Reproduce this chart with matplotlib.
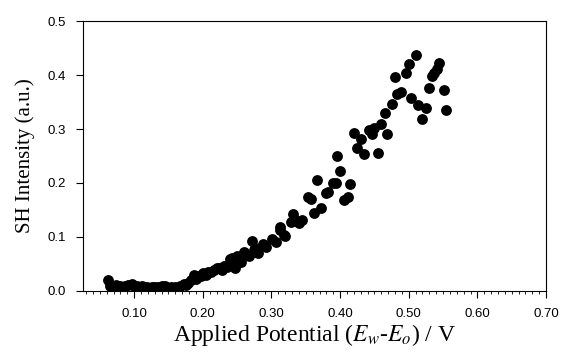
import numpy as np
import matplotlib.pyplot as plt
from matplotlib.ticker import MultipleLocator, FormatStrFormatter

plt.rcParams['mathtext.fontset'] = 'stix'

# applied potential (V) and SH intensity (a.u.)
potential = [0.0625, 0.065, 0.069, 0.074, 0.080, 0.084, 0.087, 0.091, 0.097, 0.100,
             0.104, 0.107, 0.111, 0.115, 0.119, 0.122, 0.126, 0.129, 0.133, 0.137,
             0.140, 0.145, 0.148, 0.153, 0.157, 0.160, 0.164, 0.167, 0.172, 0.176,
             0.179, 0.183, 0.187, 0.190, 0.194, 0.198, 0.201, 0.205, 0.208, 0.212,
             0.216, 0.220, 0.223, 0.228, 0.231, 0.235, 0.240, 0.243, 0.245, 0.247,
             0.250, 0.252, 0.255, 0.260, 0.262, 0.267, 0.272, 0.274, 0.276, 0.278,
             0.281, 0.288, 0.292, 0.301, 0.306, 0.312, 0.313, 0.318, 0.320, 0.328,
             0.332, 0.335, 0.340, 0.345, 0.353, 0.357, 0.362, 0.372, 0.367, 0.379,
             0.382, 0.389, 0.394, 0.395, 0.400, 0.406, 0.411, 0.414, 0.420, 0.424,
             0.430, 0.435, 0.442, 0.447, 0.450, 0.455, 0.460, 0.465, 0.469, 0.475,
             0.480, 0.483, 0.489, 0.496, 0.500, 0.504, 0.510, 0.514, 0.520, 0.525,
             0.530, 0.534, 0.537, 0.541, 0.544, 0.551, 0.555]
intensity = [0.020, 0.010, 0.008, 0.012, 0.010, 0.008, 0.010, 0.012, 0.013, 0.009,
             0.010, 0.008, 0.010, 0.007, 0.007, 0.006, 0.007, 0.008, 0.007, 0.006,
             0.009, 0.010, 0.006, 0.007, 0.005, 0.007, 0.006, 0.010, 0.013, 0.012,
             0.014, 0.020, 0.030, 0.022, 0.027, 0.028, 0.033, 0.030, 0.036, 0.036,
             0.038, 0.042, 0.043, 0.039, 0.046, 0.045, 0.060, 0.061, 0.051, 0.042,
             0.064, 0.054, 0.054, 0.073, 0.067, 0.065, 0.093, 0.076, 0.079, 0.073,
             0.070, 0.087, 0.082, 0.097, 0.090, 0.119, 0.113, 0.104, 0.101, 0.127,
             0.143, 0.132, 0.125, 0.131, 0.174, 0.171, 0.145, 0.154, 0.206, 0.182,
             0.183, 0.200, 0.200, 0.250, 0.222, 0.169, 0.174, 0.199, 0.293, 0.264,
             0.281, 0.254, 0.299, 0.290, 0.301, 0.255, 0.309, 0.329, 0.291, 0.346,
             0.397, 0.364, 0.368, 0.403, 0.420, 0.357, 0.437, 0.344, 0.319, 0.339,
             0.376, 0.398, 0.404, 0.412, 0.422, 0.372, 0.335]

fig = plt.figure(figsize=(5.61, 3.56), dpi=100)
ax = fig.add_axes([0.148, 0.1826, 0.8253, 0.7584])

ax.plot(potential, intensity, 'o', color='black', markersize=7.8, markeredgewidth=0)

ax.set_xlim(0.0255, 0.70)
ax.set_ylim(0, 0.5)
ax.xaxis.set_major_locator(MultipleLocator(0.1))
ax.xaxis.set_minor_locator(MultipleLocator(0.01))
ax.xaxis.set_major_formatter(FormatStrFormatter('%.2f'))
ax.yaxis.set_major_locator(MultipleLocator(0.1))
ax.yaxis.set_major_formatter(FormatStrFormatter('%.1f'))
ax.tick_params(which='major', direction='out', length=5, width=0.8,
               labelsize=9.5, pad=7)
ax.tick_params(which='minor', direction='out', length=2.5, width=0.6)
for lab in ax.get_xticklabels() + ax.get_yticklabels():
    lab.set_fontfamily('Liberation Sans')
for s in ax.spines.values():
    s.set_linewidth(0.8)

ax.set_xlabel('Applied Potential ($E_w$-$E_o$) / V', family='Liberation Serif',
              fontsize=17, labelpad=2)
ax.set_ylabel('SH Intensity (a.u.)', family='Liberation Serif', fontsize=15,
              labelpad=9)

fig.savefig('out.png', dpi=100)
